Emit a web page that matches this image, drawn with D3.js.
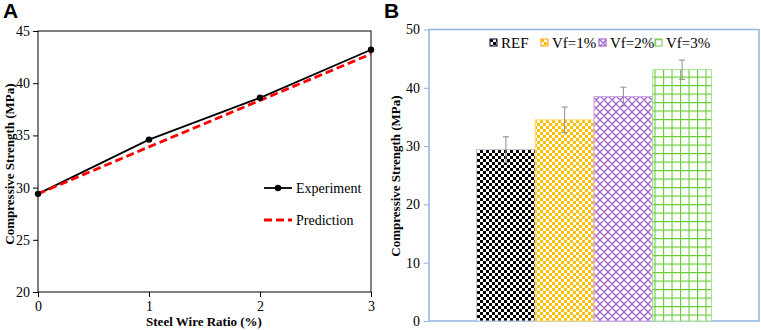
<!DOCTYPE html>
<html>
<head>
<meta charset="utf-8">
<script src="https://cdn.jsdelivr.net/npm/d3@7"></script>
<style>
  body { margin: 0; background: #fff; }
  svg text { font-family: "Liberation Serif", Tinos, "Times New Roman", Times, "DejaVu Serif", serif; }
</style>
</head>
<body>
<div id="chart"></div>
<script>
// Panel A data
const ratios = [0, 1, 2, 3];
const experiment = [29.4, 34.6, 38.6, 43.2];
const prediction = [29.4, 33.9, 38.35, 42.8];
const yTicksA = [20, 25, 30, 35, 40, 45];

// Panel B data
const groups = ["REF", "Vf=1%", "Vf=2%", "Vf=3%"];
const strength = [29.4, 34.5, 38.5, 43.1];
const errors = [2.2, 2.2, 1.6, 1.65];
const yTicksB = [0, 10, 20, 30, 40, 50];

const serif = '"Liberation Serif", Tinos, "Times New Roman", Times, "DejaVu Serif", serif';
const sans = '"Liberation Sans", Arimo, Arial, sans-serif';

var svg = d3.select("#chart").append("svg")
    .attr("width", 761)
    .attr("height", 330);

// patterns for the bars
var defs = svg.append("defs");

function checker(id, color, size) {
    var p = defs.append("pattern").attr("id", id)
        .attr("patternUnits", "userSpaceOnUse")
        .attr("width", size * 2).attr("height", size * 2);
    p.append("rect").attr("width", size * 2).attr("height", size * 2).attr("fill", "#fff");
    p.append("rect").attr("width", size).attr("height", size).attr("fill", color);
    p.append("rect").attr("x", size).attr("y", size).attr("width", size).attr("height", size).attr("fill", color);
}
checker("pREF", "#000", 3);
checker("pV1", "#ffc000", 3);

var pd = defs.append("pattern").attr("id", "pV2")
    .attr("patternUnits", "userSpaceOnUse").attr("width", 8).attr("height", 8);
pd.append("rect").attr("width", 8).attr("height", 8).attr("fill", "#fff");
pd.append("path").attr("d", "M0,0L8,8M8,0L0,8M-1,7L1,9M7,-1L9,1")
    .attr("stroke", "#a064c8").attr("stroke-width", 1.3);

var pg = defs.append("pattern").attr("id", "pV3")
    .attr("patternUnits", "userSpaceOnUse").attr("width", 8.5).attr("height", 8.5);
pg.append("rect").attr("width", 8.5).attr("height", 8.5).attr("fill", "#fff");
pg.append("path").attr("d", "M0,0V8.5M0,0H8.5")
    .attr("stroke", "#66cc33").attr("stroke-width", 2.2);

const fills = ["url(#pREF)", "url(#pV1)", "url(#pV2)", "url(#pV3)"];
const edge = ["#c0c8d8", "#ffd966", "#c9a6e0", "#a8e090"];
const legendMark = ["#1f2f4a", "#ffb030", "#a064c8", "#88d070"];

// ---------- Panel A ----------
var xA = d3.scaleLinear().domain([0, 3]).range([38, 371]);
var yA = d3.scaleLinear().domain([20, 45]).range([292, 31]);

var gA = svg.append("g");

gA.append("rect")
    .attr("x", 38).attr("y", 31)
    .attr("width", 333).attr("height", 261)
    .attr("fill", "none").attr("stroke", "#000").attr("stroke-width", 1);

var axA_y = gA.append("g")
    .attr("transform", "translate(38,0)")
    .call(d3.axisLeft(yA).tickValues(yTicksA).tickSize(5).tickPadding(3));
axA_y.select(".domain").remove();
axA_y.attr("font-family", null).attr("font-size", null);
axA_y.selectAll("text").style("font-size", "14px").style("font-family", serif);

var axA_x = gA.append("g")
    .attr("transform", "translate(0,292)")
    .call(d3.axisBottom(xA).tickValues(ratios).tickFormat(d3.format("d")).tickSize(5).tickPadding(4));
axA_x.select(".domain").remove();
axA_x.attr("font-family", null).attr("font-size", null);
axA_x.selectAll("text").style("font-size", "14px").style("font-family", serif);

var line = d3.line().x((d, i) => xA(ratios[i])).y(d => yA(d));

gA.append("path")
    .datum(experiment)
    .attr("d", line)
    .attr("fill", "none").attr("stroke", "#000").attr("stroke-width", 1.8);

gA.append("path")
    .datum(prediction)
    .attr("d", line)
    .attr("fill", "none").attr("stroke", "#ff0000").attr("stroke-width", 2.8)
    .attr("stroke-dasharray", "8,4");

gA.selectAll(".dot")
    .data(experiment)
    .join("circle")
    .attr("class", "dot")
    .attr("cx", (d, i) => xA(ratios[i]))
    .attr("cy", d => yA(d))
    .attr("r", 3.2)
    .attr("fill", "#000");

// legend A
gA.append("line").attr("x1", 264).attr("x2", 292).attr("y1", 188).attr("y2", 188)
    .attr("stroke", "#000").attr("stroke-width", 1.8);
gA.append("circle").attr("cx", 278).attr("cy", 188).attr("r", 3.2).attr("fill", "#000");
gA.append("text").attr("x", 296).attr("y", 193).style("font-size", "14px").style("font-family", serif).text("Experiment");

gA.append("line").attr("x1", 264).attr("x2", 292).attr("y1", 220).attr("y2", 220)
    .attr("stroke", "#ff0000").attr("stroke-width", 2.8).attr("stroke-dasharray", "8,4");
gA.append("text").attr("x", 296).attr("y", 225).style("font-size", "14px").style("font-family", serif).text("Prediction");

gA.append("text")
    .attr("x", 204).attr("y", 326)
    .attr("text-anchor", "middle")
    .style("font-size", "13px").style("font-weight", "bold").style("font-family", serif)
    .text("Steel Wire Ratio (%)");

gA.append("text")
    .attr("transform", "rotate(-90)")
    .attr("x", -164).attr("y", 14)
    .attr("text-anchor", "middle")
    .style("font-size", "13px").style("font-weight", "bold").style("font-family", serif)
    .text("Compressive Strength (MPa)");

gA.append("text")
    .attr("x", 3).attr("y", 18)
    .style("font-family", sans).style("font-size", "21px").style("font-weight", "bold")
    .text("A");

// ---------- Panel B ----------
var xB = d3.scaleBand().domain(groups).range([429, 759]).paddingInner(0).paddingOuter(0.81);
var yB = d3.scaleLinear().domain([0, 50]).range([321, 29.5]);

var gB = svg.append("g");

gB.append("rect")
    .attr("x", 429).attr("y", 29.5)
    .attr("width", 330).attr("height", 291.5)
    .attr("fill", "none").attr("stroke", "#8fb4e3").attr("stroke-width", 1.5);

var axB_y = gB.append("g")
    .attr("transform", "translate(429,0)")
    .call(d3.axisLeft(yB).tickValues(yTicksB).tickSize(5).tickPadding(4));
axB_y.select(".domain").remove();
axB_y.attr("font-family", null).attr("font-size", null);
axB_y.selectAll("line").attr("stroke", "#8fb4e3");
axB_y.selectAll("text").style("font-size", "14px").style("font-family", serif);

gB.selectAll(".bar")
    .data(strength)
    .join("rect")
    .attr("class", "bar")
    .attr("x", (d, i) => xB(groups[i]))
    .attr("y", d => yB(d))
    .attr("width", xB.bandwidth())
    .attr("height", d => yB(0) - yB(d))
    .attr("fill", (d, i) => fills[i])
    .attr("stroke", (d, i) => edge[i])
    .attr("stroke-width", 1);

// error bars
var eb = gB.selectAll(".err")
    .data(strength)
    .join("g")
    .attr("class", "err")
    .attr("stroke", "#8c8c8c").attr("stroke-width", 1);
eb.append("line")
    .attr("x1", (d, i) => xB(groups[i]) + xB.bandwidth() / 2)
    .attr("x2", (d, i) => xB(groups[i]) + xB.bandwidth() / 2)
    .attr("y1", (d, i) => yB(d - errors[i]))
    .attr("y2", (d, i) => yB(d + errors[i]));
eb.append("line")
    .attr("x1", (d, i) => xB(groups[i]) + xB.bandwidth() / 2 - 3)
    .attr("x2", (d, i) => xB(groups[i]) + xB.bandwidth() / 2 + 3)
    .attr("y1", (d, i) => yB(d + errors[i]))
    .attr("y2", (d, i) => yB(d + errors[i]));
eb.append("line")
    .attr("x1", (d, i) => xB(groups[i]) + xB.bandwidth() / 2 - 3)
    .attr("x2", (d, i) => xB(groups[i]) + xB.bandwidth() / 2 + 3)
    .attr("y1", (d, i) => yB(d - errors[i]))
    .attr("y2", (d, i) => yB(d - errors[i]));

// legend B
const legendX = [490, 541, 599, 655];
var lg = gB.selectAll(".lg")
    .data(groups)
    .join("g")
    .attr("class", "lg")
    .attr("transform", (d, i) => `translate(${legendX[i]},39)`);
lg.append("rect")
    .attr("width", 7).attr("height", 7)
    .attr("fill", (d, i) => fills[i])
    .attr("stroke", (d, i) => legendMark[i]).attr("stroke-width", 1.2);
lg.append("text")
    .attr("x", 11).attr("y", 9)
    .style("font-size", "15px").style("font-family", serif)
    .text(d => d);

gB.append("text")
    .attr("transform", "rotate(-90)")
    .attr("x", -176).attr("y", 400)
    .attr("text-anchor", "middle")
    .style("font-size", "13px").style("font-weight", "bold").style("font-family", serif)
    .text("Compressive Strength (MPa)");

gB.append("text")
    .attr("x", 384).attr("y", 18)
    .style("font-family", sans).style("font-size", "21px").style("font-weight", "bold")
    .text("B");
</script>
</body>
</html>
